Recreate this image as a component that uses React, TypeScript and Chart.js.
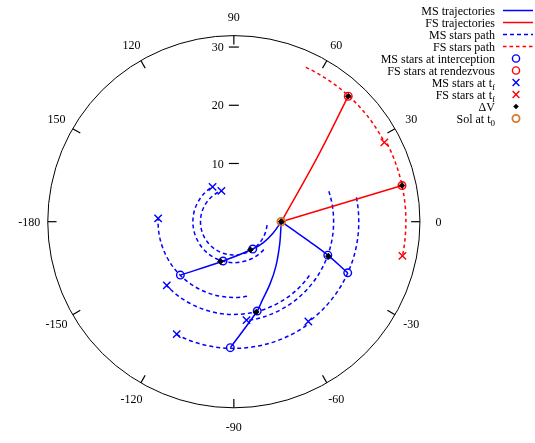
import React, { useEffect, useRef } from "react";
import { Chart, registerables } from "chart.js";

Chart.register(...registerables);

const FONT = '"Liberation Serif", "Times New Roman", serif';

// ---------------- data (polar: theta in degrees, r in kpc) ----------------
const R_MAX = 31.8;
const angleTickValues = [0, 30, 60, 90, 120, 150, 180, -150, -120, -90, -60, -30];
const angleTickLabels = ["0", "30", "60", "90", "120", "150", "-180", "-150", "-120", "-90", "-60", "-30"];
const radialTickValues = [10, 20, 30];
const radialTickLabels = ["10", "20", "30"];

// Sol at t0
const solTheta = [0];
const solR = [8.1];

// MS stars: orbit radius, angle at t0, at interception, at tf
const msStarR = [5.7, 7.0, 12.95, 15.85, 21.65, 17.05, 21.35];
const msThetaStart = [-6, -43, -80, -35.5, -55, 17.8, 11.2];
const msThetaInterception = [-55.5, -105.3, -134.9, -75.4, -91.6, -19.7, -24.3];
const msThetaFinal = [-248.1, -238.7, -182.5, -136.3, -116.8, -82.7, -53.4];

// FS stars
const fsStarR = [29.1, 29.4];
const fsThetaStart = [65, 27];
const fsThetaRendezvous = [47.8, 12.2];
const fsThetaFinal = [27.9, -11.5];

// MS trajectories (theta, r)
const msTraj1Theta = [0, -16.1, -35.5, -55.5, -105.3, -134.9];
const msTraj1R = [8.1, 6.99, 6.2, 5.7, 7.0, 12.95];
const msTraj2Theta = [0, -26.4, -47.1, -60.1, -70.4, -75.4, -91.6];
const msTraj2R = [8.1, 8.74, 10.53, 12.37, 14.39, 15.85, 21.65];
const msTraj3Theta = [0, -7.8, -14.6, -19.7, -24.3];
const msTraj3R = [8.1, 10.15, 13.26, 17.05, 21.35];

// FS trajectories
const fsTraj1Theta = [0, 37.5, 47.8];
const fsTraj1R = [8.1, 17.85, 29.1];
const fsTraj2Theta = [0, 12.2];
const fsTraj2R = [8.1, 29.4];

// Delta V impulses
const dvTheta = [0, -59.6, -108.5, -76.2, -20.2, 47.8, 12.2];
const dvR = [8.1, 5.6, 7.2, 16.0, 17.2, 29.1, 29.4];

const legendLabels = [
  "MS trajectories",
  "FS trajectories",
  "MS stars path",
  "FS stars path",
  "MS stars at interception",
  "FS stars at rendezvous",
  "MS stars at t_f",
  "FS stars at t_f",
  "\u0394V",
  "Sol at t_0",
];

// ---------------- styles ----------------
const BLUE = "#0000ff";
const RED = "#ff0000";
const ORANGE = "#d8782f";
const BLACK = "#000000";
const BLUE_DASH = [4, 3];
const RED_DASH = [3.5, 3];

const deg = Math.PI / 180;
const polar = (theta: number[], r: number[]) =>
  theta.map((t, i) => ({ x: r[i] * Math.cos(t * deg), y: r[i] * Math.sin(t * deg) }));

function drawRich(ctx: CanvasRenderingContext2D, label: string, xRight: number, y: number) {
  const parts = label.split("_");
  const main = parts[0];
  const sub = parts[1] || "";
  const mainFont = `12px ${FONT}`;
  const subFont = `9px ${FONT}`;
  ctx.font = subFont;
  const subW = sub ? ctx.measureText(sub).width : 0;
  ctx.font = mainFont;
  ctx.textAlign = "right";
  ctx.textBaseline = "middle";
  ctx.fillStyle = "#000";
  ctx.fillText(main, xRight - subW, y);
  if (sub) {
    ctx.font = subFont;
    ctx.textAlign = "left";
    ctx.fillText(sub, xRight - subW, y + 3.5);
  }
}

const polarFramePlugin = {
  id: "polarFrame",
  beforeDatasetsDraw(chart: any) {
    const ctx: CanvasRenderingContext2D = chart.ctx;
    const xs = chart.scales.x;
    const ys = chart.scales.y;
    const cx = xs.getPixelForValue(0);
    const cy = ys.getPixelForValue(0);
    const rp = (r: number) => xs.getPixelForValue(r) - cx;
    ctx.save();
    // outer circle
    ctx.strokeStyle = "#000";
    ctx.lineWidth = 1;
    ctx.setLineDash([]);
    ctx.beginPath();
    ctx.arc(cx, cy, rp(R_MAX), 0, Math.PI * 2);
    ctx.stroke();
    // angular ticks + labels
    ctx.font = `12px ${FONT}`;
    ctx.fillStyle = "#000";
    ctx.textAlign = "center";
    ctx.textBaseline = "middle";
    angleTickValues.forEach((a, i) => {
      const c = Math.cos(a * deg);
      const s = Math.sin(a * deg);
      const r0 = rp(R_MAX);
      const r1 = rp(R_MAX - 1.5);
      ctx.lineWidth = 1.2;
      ctx.beginPath();
      ctx.moveTo(cx + r0 * c, cy - r0 * s);
      ctx.lineTo(cx + r1 * c, cy - r1 * s);
      ctx.stroke();
      const rl = rp(R_MAX * 1.1);
      ctx.fillText(angleTickLabels[i], cx + rl * c, cy - rl * s + 1);
    });
    // radial ticks along theta = 90
    ctx.textAlign = "right";
    radialTickValues.forEach((v, i) => {
      const py = ys.getPixelForValue(v);
      ctx.lineWidth = 1.2;
      ctx.beginPath();
      ctx.moveTo(cx - 5, py);
      ctx.lineTo(cx + 5, py);
      ctx.stroke();
      ctx.fillText(radialTickLabels[i], cx - 10, py + 1);
    });
    // star paths (constant-radius arcs, clockwise from t0 to tf)
    ctx.lineWidth = 1.5;
    ctx.strokeStyle = BLUE;
    ctx.setLineDash(BLUE_DASH);
    msStarR.forEach((r, i) => {
      ctx.beginPath();
      ctx.arc(cx, cy, rp(r), -msThetaStart[i] * deg, -msThetaFinal[i] * deg, false);
      ctx.stroke();
    });
    ctx.strokeStyle = RED;
    ctx.setLineDash(RED_DASH);
    fsStarR.forEach((r, i) => {
      ctx.beginPath();
      ctx.arc(cx, cy, rp(r), -fsThetaStart[i] * deg, -fsThetaFinal[i] * deg, false);
      ctx.stroke();
    });
    ctx.restore();
  },
};

const legendPlugin = {
  id: "gpLegend",
  afterDraw(chart: any) {
    const ctx: CanvasRenderingContext2D = chart.ctx;
    ctx.save();
    const xText = 495;
    const xs0 = 503;
    const xs1 = 533;
    const xm = 516;
    legendLabels.forEach((label, i) => {
      const y = 12 + 12 * i;
      drawRich(ctx, label, xText, y);
      const ly = y - 1.5;
      ctx.lineWidth = 1.5;
      if (i < 4) {
        ctx.strokeStyle = i % 2 === 0 ? BLUE : RED;
        ctx.setLineDash(i < 2 ? [] : i === 2 ? BLUE_DASH : RED_DASH);
        ctx.beginPath();
        ctx.moveTo(xs0, ly);
        ctx.lineTo(xs1, ly);
        ctx.stroke();
        ctx.setLineDash([]);
      } else if (i === 4 || i === 5 || i === 9) {
        ctx.strokeStyle = i === 4 ? BLUE : i === 5 ? RED : ORANGE;
        ctx.lineWidth = i === 9 ? 1.8 : 1.4;
        ctx.beginPath();
        ctx.arc(xm, ly, 3.6, 0, Math.PI * 2);
        ctx.stroke();
      } else if (i === 6 || i === 7) {
        ctx.strokeStyle = i === 6 ? BLUE : RED;
        ctx.lineWidth = 1.4;
        const d = 3.4;
        ctx.beginPath();
        ctx.moveTo(xm - d, ly - d);
        ctx.lineTo(xm + d, ly + d);
        ctx.moveTo(xm - d, ly + d);
        ctx.lineTo(xm + d, ly - d);
        ctx.stroke();
      } else if (i === 8) {
        ctx.fillStyle = BLACK;
        const d = 2.8;
        ctx.beginPath();
        ctx.moveTo(xm, ly - d);
        ctx.lineTo(xm + d, ly);
        ctx.lineTo(xm, ly + d);
        ctx.lineTo(xm - d, ly);
        ctx.closePath();
        ctx.fill();
      }
    });
    ctx.restore();
  },
};

const W = 535;
const H = 443;
const CX = 233;
const CY = 221.7;
const PX = 6;

export default function App() {
  const ref = useRef<HTMLCanvasElement | null>(null);
  useEffect(() => {
    if (!ref.current) return;
    const lineDs = (data: any[], color: string, order: number, tension = 0.35) => ({
      data,
      showLine: true,
      borderColor: color,
      borderWidth: 1.5,
      pointRadius: 0,
      tension,
      order,
    });
    const ptDs = (data: any[], style: string, color: string, radius: number, order: number, fill = false, bw = 1.4) => ({
      data,
      showLine: false,
      pointStyle: style,
      pointRadius: radius,
      pointBorderColor: color,
      pointBackgroundColor: fill ? color : "rgba(0,0,0,0)",
      pointBorderWidth: bw,
      borderColor: color,
      backgroundColor: fill ? color : "rgba(0,0,0,0)",
      order,
    });
    const msInter = polar(msThetaInterception, msStarR);
    const msFinal = polar(msThetaFinal, msStarR);
    const fsRdv = polar(fsThetaRendezvous, fsStarR);
    const fsFinal = polar(fsThetaFinal, fsStarR);

    const chart = new Chart(ref.current, {
      type: "scatter",
      data: {
        datasets: [
          ptDs(polar(dvTheta, dvR), "rectRot", BLACK, 2.8, 0, true, 1),
          ptDs(polar(solTheta, solR), "circle", ORANGE, 3.8, 1, false, 2),
          ptDs(msInter, "circle", BLUE, 3.8, 2),
          ptDs(fsRdv, "circle", RED, 3.8, 2),
          ptDs(msFinal, "crossRot", BLUE, 5.2, 3),
          ptDs(fsFinal, "crossRot", RED, 5.2, 3),
          lineDs(polar(msTraj1Theta, msTraj1R), BLUE, 4),
          lineDs(polar(msTraj2Theta, msTraj2R), BLUE, 4),
          lineDs(polar(msTraj3Theta, msTraj3R), BLUE, 4),
          lineDs(polar(fsTraj1Theta, fsTraj1R), RED, 4, 0.4),
          lineDs(polar(fsTraj2Theta, fsTraj2R), RED, 4, 0),
        ] as any,
      },
      options: {
        animation: false,
        responsive: false,
        devicePixelRatio: 1,
        layout: { padding: 0 },
        plugins: { legend: { display: false }, tooltip: { enabled: false } },
        scales: {
          x: { type: "linear", display: false, min: -CX / PX, max: (W - CX) / PX },
          y: { type: "linear", display: false, min: -(H - CY) / PX, max: CY / PX },
        },
      },
      plugins: [polarFramePlugin, legendPlugin],
    });
    return () => chart.destroy();
  }, []);
  return (
    <div style={{ position: "fixed", left: 0, top: 0, width: W, height: H, background: "#fff" }}>
      <canvas ref={ref} width={W} height={H} style={{ display: "block" }} />
    </div>
  );
}
